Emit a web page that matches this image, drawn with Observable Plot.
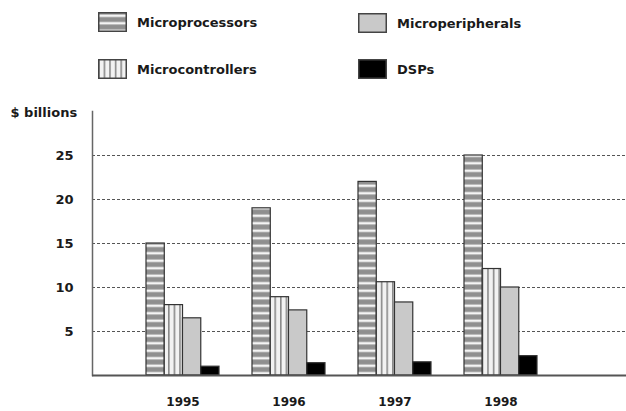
<!DOCTYPE html>
<html><head><meta charset="utf-8">
<script src="https://cdn.jsdelivr.net/npm/d3@7"></script>
<script src="https://cdn.jsdelivr.net/npm/@observablehq/plot@0.6"></script>
<style>
body{margin:0;background:#fff;font-family:"DejaVu Sans",sans-serif;}
#legend{position:relative;height:92px;width:626px;}
.item{position:absolute;display:flex;align-items:center;font-weight:bold;font-size:13px;color:#1a1a1a;height:20px;}
.item svg{margin-right:10px;display:block}
</style></head><body>
<svg width="0" height="0" style="position:absolute">
<defs>
<pattern id="hstripe" patternUnits="userSpaceOnUse" width="8" height="7.5">
<rect width="8" height="7.5" fill="#8f8f8f"/>
<rect y="2.5" width="8" height="2.5" fill="#f4f4f4"/>
</pattern>
<pattern id="vstripe" patternUnits="userSpaceOnUse" width="5.6" height="8">
<rect width="5.6" height="8" fill="#f2f2f2"/>
<rect x="0" width="1.6" height="8" fill="#8a8a8a"/>
</pattern>
</defs>
</svg>
<div id="legend"></div>
<div id="chart"></div>
<script>
const years = ["1995", "1996", "1997", "1998"];
const seriesNames = ["Microprocessors", "Microcontrollers", "Microperipherals", "DSPs"];
const microprocessors = [15, 19, 22, 25];
const microcontrollers = [8, 8.9, 10.6, 12.1];
const microperipherals = [6.5, 7.4, 8.3, 10];
const dsps = [1, 1.4, 1.5, 2.2];
const yTicks = [5, 10, 15, 20, 25];
const yLabel = "$ billions";

const seriesValues = [microprocessors, microcontrollers, microperipherals, dsps];
const fills = ["url(#hstripe)", "url(#vstripe)", "#c9c9c9", "#000"];

// legend (2 x 2 grid)
const legendSlots = [
  {left: 98, top: 12}, {left: 98, top: 59},
  {left: 358, top: 13}, {left: 358, top: 59}
];
const legend = document.getElementById("legend");
seriesNames.forEach((name, i) => {
  const d = document.createElement("div");
  d.className = "item";
  d.style.left = legendSlots[i].left + "px";
  d.style.top = legendSlots[i].top + "px";
  d.innerHTML = `<svg width="29" height="20"><rect x="0.75" y="0.75" width="27.5" height="18.5" fill="${fills[i]}" stroke="#444" stroke-width="1.5"/></svg><span>${name}</span>`;
  legend.appendChild(d);
});

const q = 72.96 / 4;
const barMarks = seriesValues.map((vals, i) =>
  Plot.barY(years.map((yr, j) => ({year: yr, value: vals[j], series: seriesNames[i]})), {
    x: "year", y: "value", fill: fills[i], stroke: "#333", strokeWidth: 1.2,
    insetLeft: i * q, insetRight: (3 - i) * q
  })
);

const chart = Plot.plot({
  width: 626, height: 319,
  marginLeft: 92, marginRight: 0, marginTop: 19, marginBottom: 36,
  style: {fontFamily: "DejaVu Sans", fontWeight: "bold", fontSize: "12px", color: "#1a1a1a", background: "#fff"},
  x: {domain: years, paddingInner: 0.316, paddingOuter: 0.661, align: 0.376, label: null},
  y: {domain: [0, 30], label: null},
  marks: [
    Plot.ruleY(yTicks, {stroke: "#555", strokeDasharray: "3,2", strokeWidth: 1}),
    ...barMarks,
    Plot.frame({anchor: "left", stroke: "#666", strokeWidth: 1.5}),
    Plot.ruleY([0], {stroke: "#555", strokeWidth: 2}),
    Plot.axisY(yTicks, {tickSize: 0, tickPadding: 19, fontSize: 13, label: null}),
    Plot.axisX({tickSize: 0, tickPadding: 22, fontSize: 12, label: null}),
    Plot.text([yLabel], {frameAnchor: "top-left", textAnchor: "start", lineAnchor: "middle", dx: -82, dy: 1, fontSize: 13})
  ]
});
document.getElementById("chart").appendChild(chart);
</script>
</body></html>
